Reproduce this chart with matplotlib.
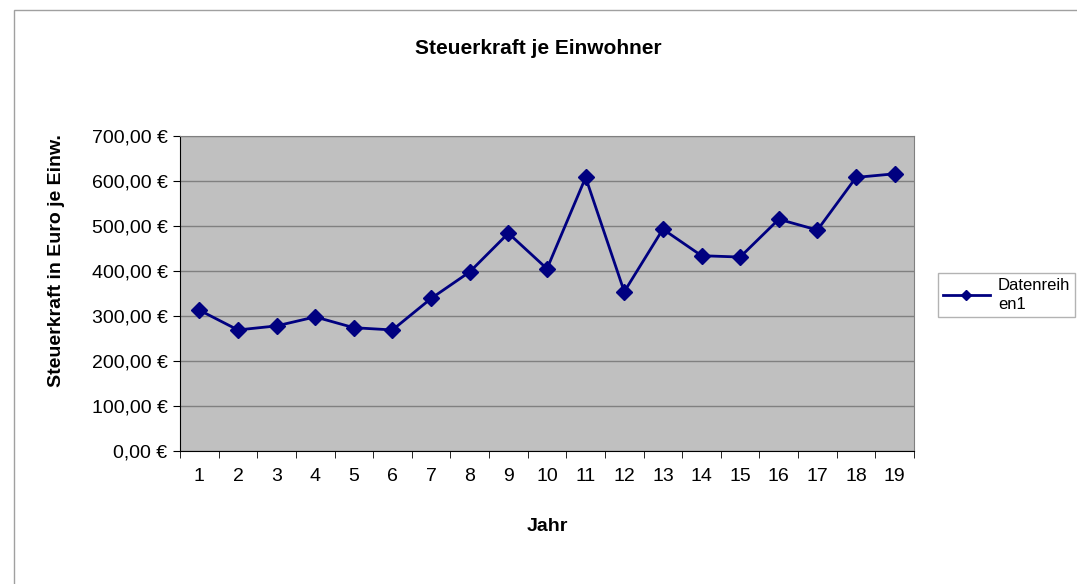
import matplotlib.pyplot as plt
from matplotlib.patches import Rectangle
from matplotlib.ticker import FuncFormatter, FixedLocator

plt.rcParams['font.family'] = ['Liberation Sans', 'DejaVu Sans']

jahre = list(range(1, 20))
steuerkraft = [313, 269, 278, 298, 274, 269, 339, 398, 484, 405,
               608, 354, 493, 434, 431, 515, 491, 608, 616]
y_ticks = [0, 100, 200, 300, 400, 500, 600, 700]

fig = plt.figure(figsize=(10.77, 5.84), dpi=100)

# outer chart border
fig.patches.append(Rectangle((14 / 1077, -0.05), 1.1, 1.05 - 10 / 584,
                             transform=fig.transFigure, fill=False,
                             edgecolor='#a0a0a0', linewidth=1))

ax = fig.add_axes([180 / 1077, 1 - 451 / 584, (914 - 180) / 1077, (451 - 136) / 584])
ax.set_facecolor('#c0c0c0')

ax.plot(jahre, steuerkraft, color='#000080', linewidth=2, marker='D',
        markersize=8, label='Datenreih\nen1', zorder=3)

ax.set_xlim(0.5, 19.5)
ax.set_ylim(0, 700)
ax.set_yticks(y_ticks)
ax.yaxis.set_major_formatter(FuncFormatter(lambda v, p: f'{v:.2f}'.replace('.', ',') + ' €'))
ax.grid(axis='y', color='#808080', linewidth=1)
ax.set_axisbelow(True)

ax.set_xticks(jahre)
ax.xaxis.set_minor_locator(FixedLocator([i + 0.5 for i in range(0, 20)]))
ax.tick_params(axis='x', which='major', length=0, pad=12, labelsize=14)
ax.tick_params(axis='x', which='minor', length=5, color='black')
ax.tick_params(axis='y', length=5, labelsize=14, pad=4)

for s in ['top', 'right']:
    ax.spines[s].set_color('#808080')
for s in ['left', 'bottom']:
    ax.spines[s].set_color('black')

ax.set_xlabel('Jahr', fontsize=14, fontweight='bold', labelpad=24)
ax.set_ylabel('Steuerkraft in Euro je Einw.', fontsize=14, fontweight='bold')
ax.yaxis.set_label_coords(-0.157, 0.603)
fig.text(0.5, 1 - 48 / 584, 'Steuerkraft je Einwohner', ha='center', va='center',
         fontsize=15, fontweight='bold')

leg = ax.legend(loc='center left', bbox_to_anchor=(938 / 1077, 1 - 295 / 584),
                bbox_transform=fig.transFigure, fontsize=12, frameon=True,
                fancybox=False, edgecolor='#a0a0a0', markerscale=0.6,
                handlelength=2.8, handletextpad=0.5, borderpad=0.3,
                borderaxespad=0)
leg.get_frame().set_linewidth(1)
leg.get_texts()[0].set_linespacing(1.3)

fig.savefig('out.png', dpi=100)
